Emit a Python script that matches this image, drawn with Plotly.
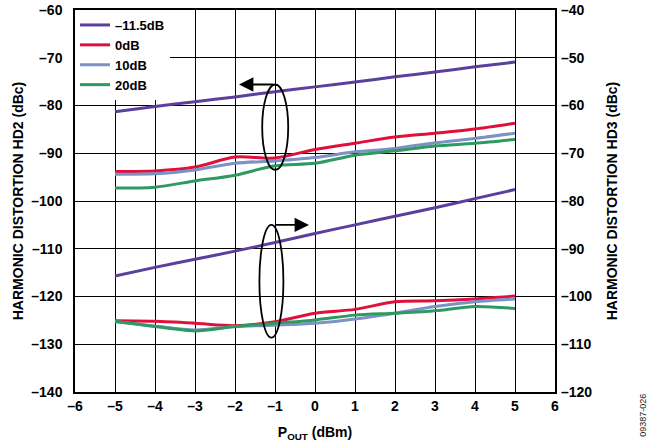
import plotly.graph_objects as go

# ---- data ----
p_out = [-5, -4, -3, -2, -1, 0, 1, 2, 3, 4, 5]
series_names = ["–11.5dB", "0dB", "10dB", "20dB"]
colors = ["#5b3f9d", "#e0103c", "#7a93c4", "#2e9a62"]

hd2_m11p5 = [-81.3, -80.2, -79.2, -78.2, -77.1, -76.1, -75.1, -74.0, -73.0, -71.9, -70.9]
hd2_0 = [-93.8, -93.7, -92.9, -90.8, -91.0, -89.2, -87.9, -86.6, -85.8, -84.9, -83.7]
hd2_10 = [-94.4, -94.3, -93.5, -92.1, -91.6, -90.9, -89.7, -89.0, -87.8, -86.9, -85.8]
hd2_20 = [-97.3, -97.1, -95.8, -94.6, -92.6, -92.1, -90.4, -89.5, -88.5, -87.9, -87.1]

hd3_m11p5 = [-95.7, -93.9, -92.2, -90.5, -88.7, -86.8, -85.0, -83.2, -81.4, -79.5, -77.6]
hd3_0 = [-105.1, -105.2, -105.6, -106.1, -105.3, -103.5, -102.7, -101.1, -100.9, -100.5, -99.9]
hd3_10 = [-105.3, -106.2, -107.0, -106.3, -106.0, -105.6, -104.7, -103.5, -102.1, -101.1, -100.5]
hd3_20 = [-105.2, -106.3, -107.2, -106.3, -105.6, -104.9, -103.9, -103.5, -103.0, -102.1, -102.5]

x_ticks = [-6, -5, -4, -3, -2, -1, 0, 1, 2, 3, 4, 5, 6]
y_left_ticks = [-140, -130, -120, -110, -100, -90, -80, -70, -60]
y_right_ticks = [-120, -110, -100, -90, -80, -70, -60, -50, -40]


def lab(v):
    return ("–" + str(abs(v))) if v < 0 else str(v)


FONT = "Liberation Sans, Arial, Helvetica, sans-serif"

fig = go.Figure()

hd2 = [hd2_m11p5, hd2_0, hd2_10, hd2_20]
hd3 = [hd3_m11p5, hd3_0, hd3_10, hd3_20]

for i in range(4):
    fig.add_trace(go.Scatter(
        x=p_out, y=hd2[i], name=series_names[i], mode="lines",
        line=dict(color=colors[i], width=3, shape="spline", smoothing=0.8),
        legendrank=i + 1, yaxis="y"))
for i in range(4):
    fig.add_trace(go.Scatter(
        x=p_out, y=hd3[i], name=series_names[i], mode="lines",
        line=dict(color=colors[i], width=3, shape="spline", smoothing=0.8),
        showlegend=False, yaxis="y2"))

# ellipses marking the curve groups
fig.add_shape(type="circle", xref="x", yref="y", x0=-1.32, x1=-0.67, y0=-93.5, y1=-75.6,
              line=dict(color="black", width=1.8))
fig.add_shape(type="circle", xref="x", yref="y", x0=-1.39, x1=-0.79, y0=-128.6, y1=-105.0,
              line=dict(color="black", width=1.8))

# arrows pointing to the relevant axis
fig.add_annotation(x=-1.9, y=-75.6, ax=-1.0, ay=-75.6, xref="x", yref="y",
                   axref="x", ayref="y", text="", showarrow=True,
                   arrowhead=2, arrowsize=1.6, arrowwidth=1.8, arrowcolor="black")
fig.add_annotation(x=-0.15, y=-105.0, ax=-1.04, ay=-105.0, xref="x", yref="y",
                   axref="x", ayref="y", text="", showarrow=True,
                   arrowhead=2, arrowsize=1.6, arrowwidth=1.8, arrowcolor="black")

# figure id
fig.add_annotation(x=1.183, y=-0.06, xref="paper", yref="paper", text="09387-026",
                   showarrow=False, textangle=-90, xanchor="center", yanchor="middle",
                   font=dict(family=FONT, size=9, color="#222"))

fig.update_layout(
    width=658, height=448,
    margin=dict(l=75, r=103, t=10, b=56),
    paper_bgcolor="white", plot_bgcolor="white",
    font=dict(family=FONT, size=13, color="black"),
    showlegend=True,
    legend=dict(x=0.0, y=1.0, xanchor="left", yanchor="top",
                bgcolor="white", borderwidth=0,
                font=dict(family=FONT, size=13, color="black", weight="bold"),
                tracegroupgap=0, itemwidth=30),
    xaxis=dict(range=[-6, 6], tickvals=x_ticks, ticktext=[lab(v) for v in x_ticks],
               showgrid=True, gridcolor="black", gridwidth=1, automargin=False,
               showline=True, linecolor="black", linewidth=1.5, mirror=True,
               ticks="", zeroline=False,
               tickfont=dict(family=FONT, size=14, weight="bold"),
               title=dict(text="P<sub>OUT</sub> (dBm)",
                          font=dict(family=FONT, size=14, weight="bold"))),
    yaxis=dict(range=[-140, -60], tickvals=y_left_ticks,
               ticktext=[lab(v) for v in y_left_ticks],
               showgrid=True, gridcolor="black", gridwidth=1, automargin=False,
               showline=True, linecolor="black", linewidth=1.5, mirror=True,
               ticks="", zeroline=False, ticklabelstandoff=8,
               tickfont=dict(family=FONT, size=14, weight="bold"),
               title=dict(text="HARMONIC DISTORTION HD2 (dBc)", standoff=4,
                          font=dict(family=FONT, size=14, weight="bold"))),
    yaxis2=dict(range=[-120, -40], tickvals=y_right_ticks,
                ticktext=[lab(v) for v in y_right_ticks], automargin=False,
                overlaying="y", side="right", showgrid=False, zeroline=False,
                showline=False, ticks="", ticklabelstandoff=5,
                tickfont=dict(family=FONT, size=14, weight="bold"),
                title=dict(text="HARMONIC DISTORTION HD3 (dBc)",
                           font=dict(family=FONT, size=14, weight="bold"))),
)

fig.write_html("out.html")
